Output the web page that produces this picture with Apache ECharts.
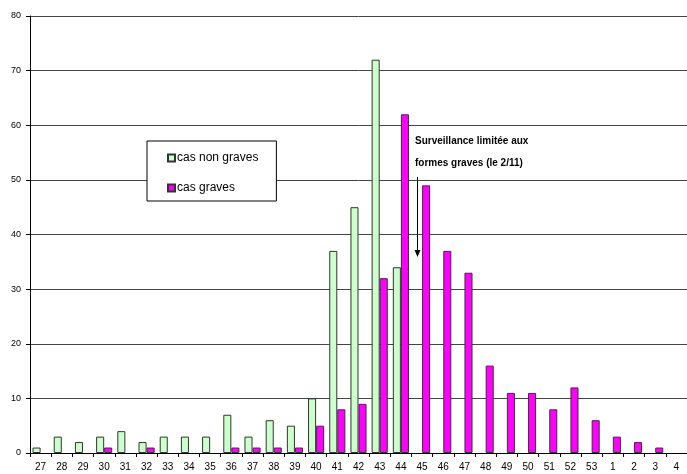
<!DOCTYPE html>
<html><head><meta charset="utf-8">
<script src="https://cdn.jsdelivr.net/npm/echarts@6/dist/echarts.min.js"></script>
<style>html,body{margin:0;padding:0;background:#fff}#c{width:687px;height:474px}</style>
</head><body><div id="c"></div>
<script>
const weeks = ['27','28','29','30','31','32','33','34','35','36','37','38','39','40','41','42','43','44','45','46','47','48','49','50','51','52','53','1','2','3','4'];
const nonGraves = [1,3,2,3,4,2,3,3,3,7,3,6,5,10,37,45,72,34,0,0,0,0,0,0,0,0,0,0,0,0,0];
const graves = [0,0,0,1,0,1,0,0,0,1,1,1,1,5,8,9,32,62,49,37,33,16,11,11,8,12,6,3,2,1,0];
const yTicks = {min:0, max:80, interval:10};
const hideZero = v => (v === 0 ? null : v);

const chart = echarts.init(document.getElementById('c'));
const ff = 'Liberation Sans, Arial, sans-serif';
chart.setOption({
  animation:false,
  textStyle:{fontFamily:ff},
  grid:{left:30, right:-3, top:16, bottom:21},
  legend:{
    orient:'vertical', left:147, top:141,
    backgroundColor:'#fff', borderColor:'#000', borderWidth:1,
    padding:[11,18,7,20], itemGap:18, itemWidth:7, itemHeight:7,
    icon:'rect',
    textStyle:{fontFamily:ff, fontSize:12, color:'#000', padding:[0,0,0,-3]},
    data:['cas non graves','cas graves']
  },
  xAxis:{
    type:'category', data:weeks,
    axisLine:{lineStyle:{color:'#000'}},
    axisTick:{show:true, alignWithLabel:false, length:4, lineStyle:{color:'#000'}},
    axisLabel:{color:'#000', fontSize:10, margin:9, interval:0}
  },
  yAxis:{
    type:'value', min:yTicks.min, max:yTicks.max, interval:yTicks.interval,
    axisLine:{show:true, lineStyle:{color:'#000'}},
    axisTick:{show:true, length:4, lineStyle:{color:'#000'}},
    axisLabel:{color:'#000', fontSize:9, margin:9},
    splitLine:{lineStyle:{color:'#444', width:1}}
  },
  series:[
    {name:'cas non graves', type:'bar', data:nonGraves.map(hideZero), barGap:'0%', barCategoryGap:'24%',
     itemStyle:{color:'#ccffcc', borderColor:'#333', borderWidth:1}},
    {name:'cas graves', type:'bar', data:graves.map(hideZero),
     itemStyle:{color:'#ff00ff', borderColor:'#333', borderWidth:1}}
  ],
  graphic:[
    {type:'text', left:415, top:130, style:{text:'Surveillance limitée aux\nformes graves (le 2/11)', font:'bold 10px '+ff, fill:'#000', lineHeight:22}},
    {type:'line', shape:{x1:417.5, y1:177, x2:417.5, y2:252}, style:{stroke:'#000', lineWidth:1}},
    {type:'polygon', shape:{points:[[414.5,250],[420.5,250],[417.5,257]]}, style:{fill:'#000'}}
  ]
});
</script></body></html>
